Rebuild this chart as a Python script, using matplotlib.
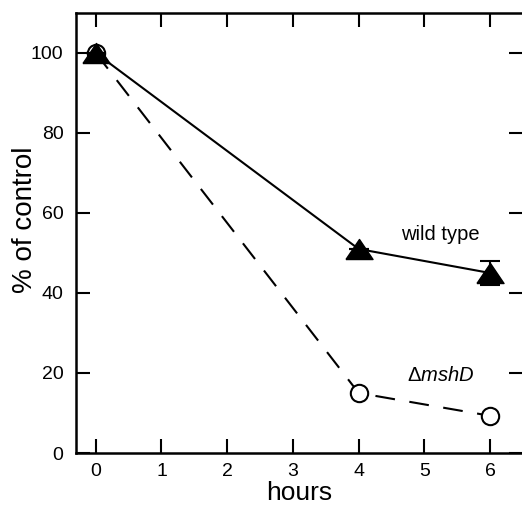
import matplotlib
matplotlib.use('Agg')
import matplotlib.pyplot as plt
import numpy as np

plt.rcParams['font.family'] = ['Liberation Sans', 'DejaVu Sans']
plt.rcParams['mathtext.fontset'] = 'custom'
plt.rcParams['mathtext.rm'] = 'Liberation Sans'
plt.rcParams['mathtext.it'] = 'Liberation Sans:italic'

hours = [0, 4, 6]
wild_type = [100, 51, 45]
wild_type_err = [0, 0, 3]
msh_d = [100, 15, 9.3]

x_ticks = [0, 1, 2, 3, 4, 5, 6]
y_ticks = [0, 20, 40, 60, 80, 100]

# flattened triangle marker
tri = [(-1, -0.74), (1, -0.74), (0, 0.74), (-1, -0.74)]

fig = plt.figure(figsize=(5.22, 5.07), dpi=100)
ax = fig.add_axes([0.1456, 0.1065, 0.8563, 0.8679])

ax.plot(hours, msh_d, color='black', lw=1.5, linestyle=(0, (9.5, 7)),
        marker='o', ms=12.5, mfc='white', mec='black', mew=1.5, zorder=2)
ax.errorbar(hours, wild_type, yerr=wild_type_err, color='black', lw=1.5,
            marker=tri, ms=19.5, mfc='black', mec='black',
            capsize=7, capthick=1.5, elinewidth=1.5, zorder=3)

ax.text(5.24, 54.5, 'wild type', fontsize=14.5, ha='center', va='center')
ax.text(5.25, 19.5, r'$\Delta\mathit{mshD}$', fontsize=14.5, ha='center', va='center')

ax.set_xlim(-0.30, 6.50)
ax.set_ylim(0, 110)
ax.set_xticks(x_ticks)
ax.set_yticks(y_ticks)
ax.tick_params(direction='in', length=10, width=1.5, labelsize=14,
               top=True, right=True)
ax.tick_params(axis='x', pad=7)
ax.tick_params(axis='y', pad=9)
for s in ax.spines.values():
    s.set_linewidth(1.8)

ax.set_xlabel('hours', fontsize=19, labelpad=1)
ax.set_ylabel('% of control', fontsize=20)
ax.yaxis.set_label_coords(-0.086, 0.53)

fig.savefig('out.png', dpi=100)
